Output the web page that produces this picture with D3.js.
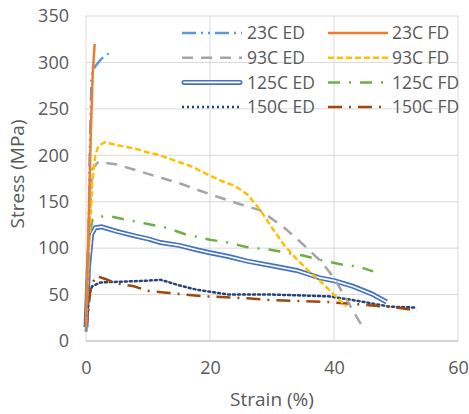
<!DOCTYPE html>
<html>
<head>
<meta charset="utf-8">
<script src="https://cdn.jsdelivr.net/npm/d3@7"></script>
<style>
  body { margin: 0; background: #fff; }
  text { font-family: "Open Sans", "Liberation Sans", sans-serif; fill: #595959; }
</style>
</head>
<body>
<div id="chart"></div>
<script>
// values: [strain %, stress MPa]
const s23ED = [[0,10],[0.3,60],[0.6,200],[0.9,285],[1.5,296],[2.5,304],[3.2,307],[4.2,313]];
const s23FD = [[0,15],[0.4,120],[0.8,230],[1.1,290],[1.4,320]];
const s93ED = [[0,20],[0.5,120],[1,185],[2,193],[5,190],[10,180],[15,170],[20,158],[25,147],[28,141],[32,122],[35,104],[38,85],[40,68],[42,45],[44,22],[45,12]];
const s93FD = [[0,10],[0.5,100],[1,170],[1.5,200],[2,210],[3,214],[5,211],[8,207],[10,203],[12,200],[14,195],[17,188],[20,178],[22,172],[24,167],[26,158],[28,142],[30,122],[32,103],[34,88],[36,75],[38,63],[40,50],[42,37]];
const s125ED = [[0,15],[0.4,80],[0.9,115],[1.5,122],[2.5,123],[5,118],[8,113],[10,110],[12,106],[15,103],[18,98],[20,95],[23,91],[26,86],[30,81],[34,76],[37.7,68],[40,65],[43,59],[46,51],[48.5,42]];
const s125FD = [[0,50],[0.3,100],[1,130],[1.7,134],[4,134],[7,130],[10,126],[13,122],[16,115],[20,109],[23,106],[26,101],[30,98],[35,92],[38,87],[41.5,82],[44,80],[46.3,75]];
const s150ED = [[0,15],[0.5,50],[1,59],[2.3,63],[6,64],[10,65],[12,66],[15,60],[18,55],[23,50],[30,50],[35,49],[39.4,48],[44,43],[49,37],[53,36]];
const s150FD = [[0,10],[0.3,30],[0.8,60],[1.7,70],[3,67],[5,62],[7.7,59],[10,54],[13,52],[16,50],[19.5,48],[26,46],[30,44],[35,43],[39,42],[45,39],[50,36],[53.4,33]];

const seriesNames = ["23C ED", "23C FD", "93C ED", "93C FD", "125C ED", "125C FD", "150C ED", "150C FD"];
const seriesData = [s23ED, s23FD, s93ED, s93FD, s125ED, s125FD, s150ED, s150FD];
const xTicks = [0, 20, 40, 60];
const yTicks = [0, 50, 100, 150, 200, 250, 300, 350];

const styles = [
  { color: "#5B9BD5", dash: "14,5,2,5,2,5" },
  { color: "#ED7D31", dash: null },
  { color: "#A5A5A5", dash: "11,8" },
  { color: "#FFC000", dash: "6,3" },
  { color: "#4472C4", dash: null, dbl: true },
  { color: "#70AD47", dash: "12,9,2,9" },
  { color: "#264478", dash: "2,3" },
  { color: "#9E480E", dash: "14,7,2,7" }
];

const W = 469, H = 414;
const m = { top: 16, right: 11, bottom: 73, left: 86 };

const svg = d3.select("#chart").append("svg")
  .attr("width", W).attr("height", H);

const x = d3.scaleLinear().domain([0, 60]).range([m.left, W - m.right]);
const y = d3.scaleLinear().domain([0, 350]).range([H - m.bottom, m.top]);

// gridlines
svg.append("g").selectAll("line").data(yTicks).join("line")
  .attr("x1", x(0)).attr("x2", x(60))
  .attr("y1", d => y(d)).attr("y2", d => y(d))
  .attr("stroke", "#d9d9d9").attr("stroke-width", 1);
svg.append("g").selectAll("line").data(xTicks).join("line")
  .attr("x1", d => x(d)).attr("x2", d => x(d))
  .attr("y1", y(0)).attr("y2", y(350))
  .attr("stroke", "#d9d9d9").attr("stroke-width", 1);
// axis line
svg.append("line")
  .attr("x1", x(0)).attr("x2", x(60)).attr("y1", y(0)).attr("y2", y(0))
  .attr("stroke", "#bfbfbf");

// tick labels
const xAxis = svg.append("g").attr("transform", "translate(0,368)")
  .call(d3.axisBottom(x).tickValues(xTicks).tickSize(0));
xAxis.select(".domain").remove();
xAxis.selectAll("text").attr("font-size", 18).attr("y", 0).attr("dy", "0.35em");

const yAxis = svg.append("g").attr("transform", "translate(69,0)")
  .call(d3.axisLeft(y).tickValues(yTicks).tickSize(0));
yAxis.select(".domain").remove();
yAxis.selectAll("text").attr("font-size", 18).attr("x", 0);

// axis titles
svg.append("text")
  .attr("x", 272).attr("y", 406)
  .attr("text-anchor", "middle").attr("font-size", 19)
  .text("Strain (%)");
svg.append("text")
  .attr("transform", "translate(24,174) rotate(-90)")
  .attr("text-anchor", "middle").attr("font-size", 19)
  .text("Stress (MPa)");

const line = d3.line().x(d => x(d[0])).y(d => y(d[1]));

// draw series
const order = [4, 6, 7, 5, 2, 3, 0, 1];
order.forEach(i => {
  const st = styles[i];
  if (st.dbl) {
    svg.append("path").attr("d", line(seriesData[i]))
      .attr("fill", "none").attr("stroke", st.color).attr("stroke-width", 5);
    svg.append("path").attr("d", line(seriesData[i]))
      .attr("fill", "none").attr("stroke", "#fff").attr("stroke-width", 1.6);
  } else {
    svg.append("path").attr("d", line(seriesData[i]))
      .attr("fill", "none").attr("stroke", st.color).attr("stroke-width", 2.5)
      .attr("stroke-dasharray", st.dash)
      .attr("stroke-linecap", i === 6 ? "round" : "butt");
  }
});

// legend
const leg = svg.append("g");
seriesNames.forEach((name, i) => {
  const col = i % 2, row = Math.floor(i / 2);
  const lx = col === 0 ? 182 : 328;
  const ly = 33 + row * 24.7;
  const st = styles[i];
  const g = leg.append("g");
  if (st.dbl) {
    g.append("line").attr("x1", lx + 2).attr("x2", lx + 58).attr("y1", ly).attr("y2", ly)
      .attr("stroke", st.color).attr("stroke-width", 5).attr("stroke-linecap", "round");
    g.append("line").attr("x1", lx + 2).attr("x2", lx + 58).attr("y1", ly).attr("y2", ly)
      .attr("stroke", "#fff").attr("stroke-width", 1.6).attr("stroke-linecap", "round");
  } else {
    g.append("line").attr("x1", lx).attr("x2", lx + 60).attr("y1", ly).attr("y2", ly)
      .attr("stroke", st.color).attr("stroke-width", 2.5)
      .attr("stroke-dasharray", st.dash);
  }
  g.append("text").attr("x", lx + (col === 0 ? 65 : 64)).attr("y", ly)
    .attr("dy", "0.35em").attr("font-size", 17.5).text(name);
});
</script>
</body>
</html>
